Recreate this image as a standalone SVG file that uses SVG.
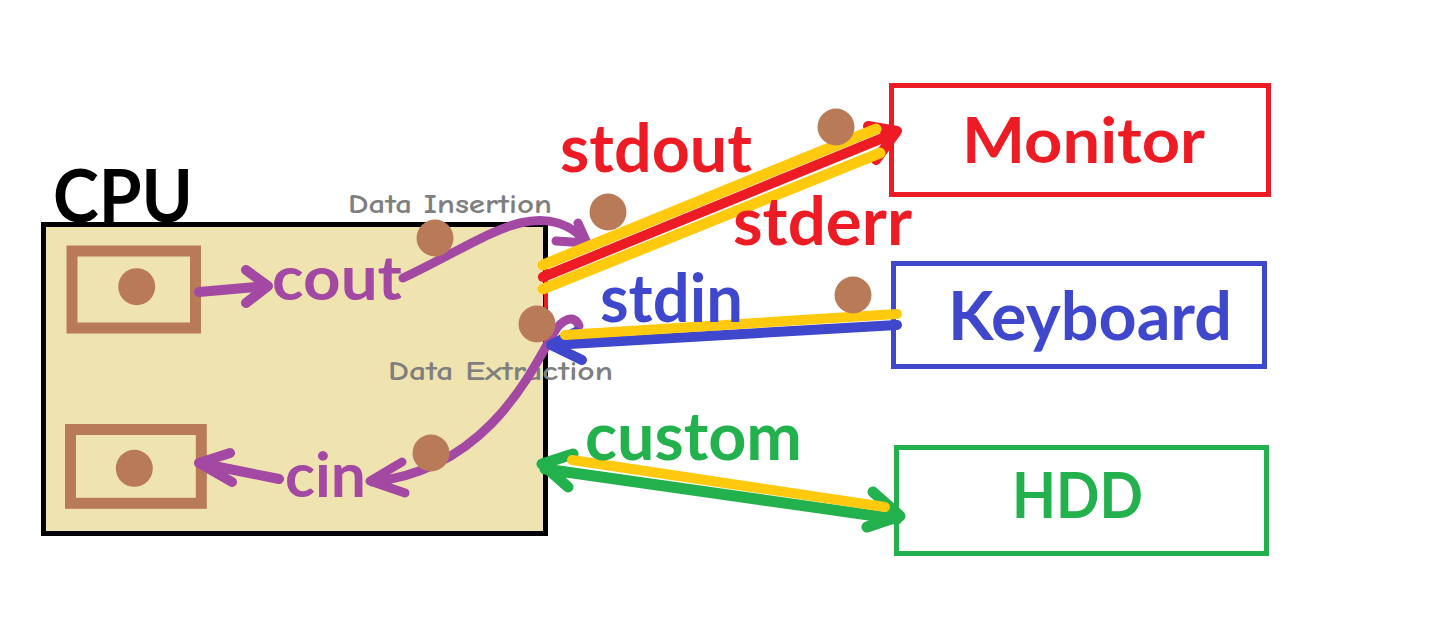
<svg xmlns="http://www.w3.org/2000/svg" width="1442" height="620" viewBox="0 0 1442 620">
<style>
.lbl{font-family:Lato,"Liberation Sans",sans-serif;font-weight:bold}
.small{font-family:"Comic Neue","DejaVu Sans","Liberation Sans",sans-serif;font-size:27px;font-weight:bold;fill:#7F7F7F}
.ln{fill:none;stroke-linecap:round;stroke-linejoin:round}
.dot{fill:#B97A57}
</style>
<rect width="1442" height="620" fill="#FFFFFF"/>
<g id="cpu">
<rect x="43.5" y="224.5" width="502" height="309" fill="#EFE4B0" stroke="#000" stroke-width="5"/>
<line x1="546" y1="263" x2="546" y2="308" stroke="#ED1C24" stroke-width="4"/>
<text class="lbl" x="53" y="222" font-size="72" fill="#000" textLength="140" lengthAdjust="spacingAndGlyphs">CPU</text>
<rect x="72" y="251" width="123.5" height="77" fill="none" stroke="#B97A57" stroke-width="11"/>
<circle class="dot" cx="136.7" cy="286.7" r="18.5"/>
<rect x="70.5" y="429.5" width="130.8" height="73.8" fill="none" stroke="#B97A57" stroke-width="11"/>
<circle class="dot" cx="134.3" cy="468.3" r="18.5"/>
<text class="lbl" x="272" y="300" font-size="62" fill="#A349A4" textLength="130" lengthAdjust="spacingAndGlyphs">cout</text>
<text class="lbl" x="285" y="497" font-size="62" fill="#A349A4" textLength="81" lengthAdjust="spacingAndGlyphs">cin</text>
<text class="small" x="348" y="213" textLength="204" lengthAdjust="spacingAndGlyphs">Data Insertion</text>
<text class="small" x="388" y="380" textLength="225" lengthAdjust="spacingAndGlyphs">Data Extraction</text>
</g>
<g id="monitor">
<rect x="891.5" y="85.5" width="377" height="109" fill="none" stroke="#ED1C24" stroke-width="5"/>
<text class="lbl" x="962" y="163" font-size="63" fill="#ED1C24" textLength="243" lengthAdjust="spacingAndGlyphs">Monitor</text>
</g>
<g id="keyboard">
<rect x="893.5" y="263.5" width="371" height="103" fill="none" stroke="#3F48CC" stroke-width="5"/>
<text class="lbl" x="948" y="340" font-size="66" fill="#3F48CC" textLength="284" lengthAdjust="spacingAndGlyphs">Keyboard</text>
</g>
<g id="hdd">
<rect x="896.5" y="447.5" width="370" height="106" fill="none" stroke="#22B14C" stroke-width="5"/>
<text class="lbl" x="1012" y="518" font-size="63" fill="#22B14C" textLength="131" lengthAdjust="spacingAndGlyphs">HDD</text>
</g>
<g id="connectors">
<path class="ln" d="M199,292 L268,286 M246,270 L268,286 L246,303" stroke="#A349A4" stroke-width="10"/>
<path class="ln" d="M279,479 L199,463 M230,453 L199,463 L232,482" stroke="#A349A4" stroke-width="10"/>
<path class="ln" d="M403,278 C450,256 490,230 520,223 C550,216 572,225 586,242 M578,223 L587,243 L556,241" stroke="#A349A4" stroke-width="9"/>
<path class="ln" d="M579,326 C575,314 562,318 553,334 C525,385 480,470 372,482 M402,462 L370,481 L405,493" stroke="#A349A4" stroke-width="9"/>
<path class="ln" d="M543,277 L895,133 M868,126 L897,131 L876,160" stroke="#ED1C24" stroke-width="10"/>
<line class="ln" x1="543" y1="265" x2="876" y2="129" stroke="#FFC90E" stroke-width="11"/>
<line class="ln" x1="543" y1="289" x2="880" y2="153" stroke="#FFC90E" stroke-width="11"/>
<line class="ln" x1="897" y1="325" x2="552" y2="345" stroke="#3F48CC" stroke-width="10"/>
<path class="ln" d="M576,332 L551,345 L582,360" stroke="#3F48CC" stroke-width="10"/>
<line class="ln" x1="565" y1="335" x2="897" y2="314" stroke="#FFC90E" stroke-width="10"/>
<path class="ln" d="M545,469 L897,519 M573,454 L542,464 L568,487 M873,492 L900,516 L867,527" stroke="#22B14C" stroke-width="11"/>
<line class="ln" x1="572" y1="460" x2="885" y2="507" stroke="#FFC90E" stroke-width="10"/>
</g>
<g id="labels">
<text class="lbl" x="560" y="172" font-size="66" fill="#ED1C24" textLength="192" lengthAdjust="spacingAndGlyphs">stdout</text>
<text class="lbl" x="733" y="245" font-size="66" fill="#ED1C24" textLength="179" lengthAdjust="spacingAndGlyphs">stderr</text>
<text class="lbl" x="600" y="322" font-size="66" fill="#3F48CC" textLength="143" lengthAdjust="spacingAndGlyphs">stdin</text>
<text class="lbl" x="585" y="460" font-size="67" fill="#22B14C" textLength="217" lengthAdjust="spacingAndGlyphs">custom</text>
</g>
<g id="dots">
<circle class="dot" cx="435" cy="238" r="18.5"/>
<circle class="dot" cx="608" cy="212" r="18.5"/>
<circle class="dot" cx="537" cy="324" r="18.5"/>
<circle class="dot" cx="431" cy="453" r="18.5"/>
<circle class="dot" cx="836" cy="127" r="18.5"/>
<circle class="dot" cx="853" cy="295" r="18.5"/>
</g>
</svg>
